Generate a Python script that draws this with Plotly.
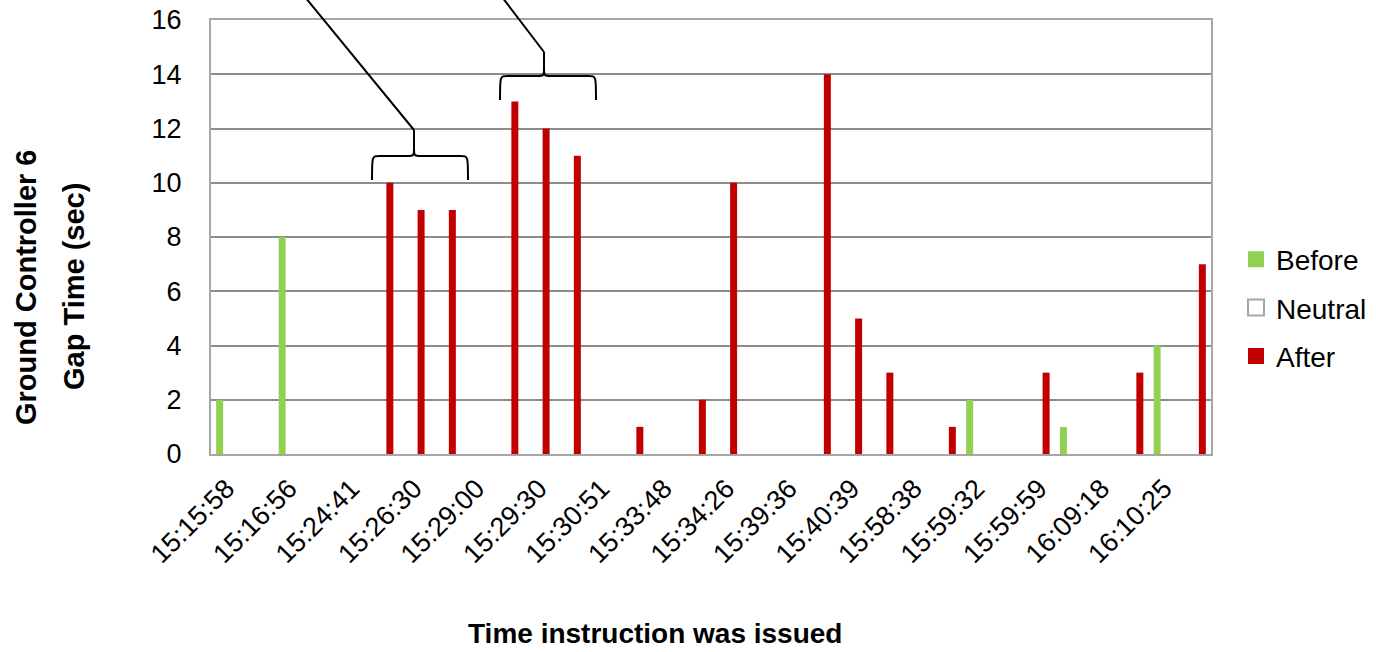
import plotly.graph_objects as go

# ---- data ----
tick_labels = ["15:15:58", "15:16:56", "15:24:41", "15:26:30", "15:29:00", "15:29:30",
               "15:30:51", "15:33:48", "15:34:26", "15:39:36", "15:40:39", "15:58:38",
               "15:59:32", "15:59:59", "16:09:18", "16:10:25"]
# 32 instruction slots; only every other one is labelled on the axis
slots = list(range(32))
before = [2, None, 8, None, None, None, None, None, None, None, None, None, None, None, None, None,
          None, None, None, None, None, None, None, None, 2, None, None, 1, None, None, 4, None]
neutral = [None] * 32
after = [None, None, None, None, None, 10, 9, 9, None, 13, 12, 11, None, 1, None, 2,
         10, None, None, 14, 5, 3, None, 1, None, None, 3, None, None, 3, None, 7]
series_names = ["Before", "Neutral", "After"]

FONT = "Liberation Sans, Arial, sans-serif"
L, R, T, B = 211, 1211, 20, 454
W, H = 1376, 652
GREEN, RED, GREY = "#92d050", "#c00000", "#a6a6a6"


def xp(px):
    return (px - L) / (R - L)


def yp(py):
    return (B - py) / (B - T)


fig = go.Figure()
fig.add_trace(go.Bar(x=slots, y=before, name=series_names[0], showlegend=False,
                     marker=dict(color=GREEN, line=dict(width=0))))
fig.add_trace(go.Bar(x=slots, y=neutral, name=series_names[1], showlegend=False,
                     marker=dict(color="#ffffff", line=dict(color=GREY, width=2))))
fig.add_trace(go.Bar(x=slots, y=after, name=series_names[2], showlegend=False,
                     marker=dict(color=RED, line=dict(width=0))))

# legend entries (square swatches like the original)
for nm, col, lc, lw in [(series_names[0], GREEN, GREEN, 0),
                        (series_names[1], "#ffffff", GREY, 2),
                        (series_names[2], RED, RED, 0)]:
    fig.add_trace(go.Scatter(x=[None], y=[None], mode="markers", name=nm, legendgroup=nm,
                             marker=dict(symbol="square", size=16, color=col,
                                         line=dict(color=lc, width=lw))))


def brace(a, b, c, y0, y1, y2, top_x, top_y):
    r = 7
    d = (f"M {xp(a)},{yp(y0)} C {xp(a)},{yp(y1)} {xp(a)},{yp(y1)} {xp(a + r)},{yp(y1)} "
         f"L {xp(c - r)},{yp(y1)} C {xp(c)},{yp(y1)} {xp(c)},{yp(y1)} {xp(c)},{yp(y1 - 9)} "
         f"L {xp(c)},{yp(y2)} "
         f"M {xp(c)},{yp(y1 - 9)} C {xp(c)},{yp(y1)} {xp(c)},{yp(y1)} {xp(c + r)},{yp(y1)} "
         f"L {xp(b - r)},{yp(y1)} C {xp(b)},{yp(y1)} {xp(b)},{yp(y1)} {xp(b)},{yp(y0)} "
         f"M {xp(c)},{yp(y2)} L {xp(top_x)},{yp(top_y)}")
    return dict(type="path", xref="paper", yref="paper", path=d,
                line=dict(color="black", width=2))


shapes = [
    brace(372, 468, 414, 180, 156, 130, 305, -3),
    brace(500, 596, 544, 100, 76, 52, 502, -3),
]

annotations = [
    dict(text="<b>Time instruction was issued</b>", xref="paper", yref="paper",
         x=xp(655), y=yp(633), showarrow=False, font=dict(size=28, color="black", family=FONT),
         xanchor="center", yanchor="middle"),
    dict(text="<b>Ground Controller 6</b>", xref="paper", yref="paper",
         x=xp(26), y=yp(287), showarrow=False, textangle=-90,
         font=dict(size=29, color="black", family=FONT), xanchor="center", yanchor="middle"),
    dict(text="<b>Gap Time (sec)</b>", xref="paper", yref="paper",
         x=xp(74), y=yp(287), showarrow=False, textangle=-90,
         font=dict(size=29, color="black", family=FONT), xanchor="center", yanchor="middle"),
]

fig.update_layout(
    width=W, height=H,
    margin=dict(l=L, r=W - R, t=T, b=H - B, autoexpand=False),
    paper_bgcolor="white", plot_bgcolor="white",
    barmode="group", bargap=0.33, bargroupgap=0,
    font=dict(family=FONT, size=27, color="black"),
    showlegend=True,
    legend=dict(x=xp(1236), y=yp(308), xanchor="left", yanchor="middle",
                font=dict(size=28, family=FONT, color="black"),
                tracegroupgap=9, bgcolor="rgba(0,0,0,0)", itemwidth=30),
    shapes=shapes,
    annotations=annotations,
)
fig.update_xaxes(range=[-0.5, 31.5], tickmode="array", tickvals=slots[::2], ticktext=tick_labels,
                 tickangle=-45, showgrid=False, zeroline=False, automargin=False,
                 showline=True, linecolor=GREY, linewidth=2, mirror=True,
                 ticks="", ticklabelstandoff=6, tickfont=dict(size=27, family=FONT))
fig.update_yaxes(range=[0, 16], dtick=2, tick0=0, showgrid=True, gridcolor="#8c8c8c", gridwidth=1.5,
                 zeroline=False, showline=True, linecolor=GREY, linewidth=2, mirror=True,
                 automargin=False,
                 ticks="", ticklabelstandoff=22, tickfont=dict(size=27, family=FONT))

fig.write_html("out.html")
